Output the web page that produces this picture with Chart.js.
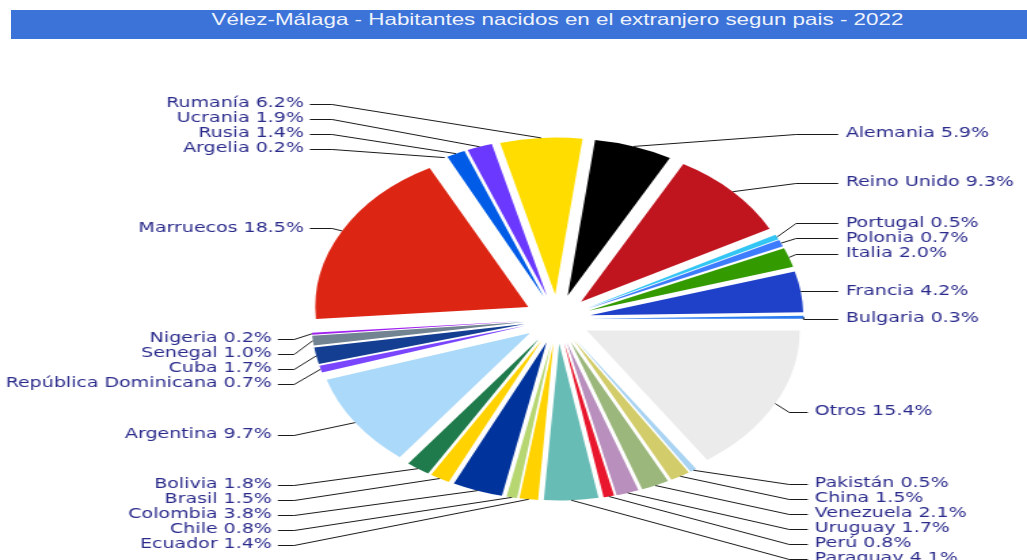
<!DOCTYPE html>
<html lang="es">
<head>
<meta charset="utf-8">
<title>Vélez-Málaga - Habitantes nacidos en el extranjero</title>
<script src="https://cdn.jsdelivr.net/npm/chart.js@4.4.1/dist/chart.umd.min.js"></script>
<style>
  html, body { margin: 0; padding: 0; background: #fff; overflow: hidden; }
  /* la imagen original esta estirada en horizontal: se dibuja a 757px y se estira a 1027px */
  #lienzo { position: relative; width: 757px; height: 560px; transform: scaleX(1.3567); transform-origin: 0 0; }
  #titulo {
    position: absolute; left: 8.1px; top: 10px; width: 805.6px; height: 29px; line-height: 29px;
    background: #3b73d9; color: #eef2fb; font: 16.5px "Liberation Sans", Arial, sans-serif;
    text-align: center; white-space: nowrap; z-index: 2;
  }
  #grafico { position: absolute; left: 0; top: 0; display: block; }
</style>
</head>
<body>
<div id="lienzo">
  <div id="titulo">Vélez-Málaga - Habitantes nacidos en el extranjero segun pais - 2022</div>
  <canvas id="grafico" width="757" height="560" style="width:757px;height:560px"></canvas>
</div>
<script>
// --- DATOS (orden de las porciones, en sentido horario) ---
const paises = [
  'Alemania', 'Reino Unido', 'Portugal', 'Polonia', 'Italia', 'Francia', 'Bulgaria',
  'Otros', 'Pakistán', 'China', 'Venezuela', 'Uruguay', 'Perú', 'Paraguay',
  'Ecuador', 'Chile', 'Colombia', 'Brasil', 'Bolivia', 'Argentina',
  'República Dominicana', 'Cuba', 'Senegal', 'Nigeria', 'Marruecos', 'Argelia',
  'Rusia', 'Ucrania', 'Rumanía'
];
const porcentajes = [
  5.9, 9.3, 0.5, 0.7, 2.0, 4.2, 0.3,
  15.4, 0.5, 1.5, 2.1, 1.7, 0.8, 4.1,
  1.4, 0.8, 3.8, 1.5, 1.8, 9.7,
  0.7, 1.7, 1.0, 0.2, 18.5, 0.2,
  1.4, 1.9, 6.2
];
const colores = [
  '#000000', '#c0141f', '#33c6f4', '#3d7bff', '#339a00', '#1f41c9', '#2b7bf0',
  '#ebebeb', '#a9d3f2', '#d2cc6a', '#9bb77b', '#b98fbd', '#e8172e', '#67bcb6',
  '#ffd200', '#b6d672', '#00339b', '#ffd200', '#1f7b4b', '#abd9f9',
  '#7a45ff', '#143e92', '#728391', '#a020f0', '#dd2513', '#ffffff',
  '#005ce6', '#6a38ff', '#ffdd00'
];

const SEPARACION = 24.5;   // desplazamiento de cada porcion hacia fuera
const HUECO_ETIQUETA = 15; // distancia extra para la altura ideal de la etiqueta
const INTERLINEA = 15;     // separacion minima entre etiquetas

// columnas de texto, codo de la linea guia, final de la linea y ajuste vertical (respecto al centro)
const columnas = {
  derArriba: { texto: 212.6, codo: 176, fin: 207, dy: 1.5 },
  derAbajo:  { texto: 189.8, codo: 171, fin: 184.6, dy: 1 },
  izqArriba: { texto: 186.8, codo: 166, fin: 182.4, dy: 4.5 },
  izqAbajo:  { texto: 210.4, codo: 194, fin: 206, dy: 3.5 }
};

// dibuja cada porcion separada del centro
const explotarPorciones = {
  id: 'explotarPorciones',
  beforeDatasetsDraw(chart) {
    const ctx = chart.ctx;
    chart.getDatasetMeta(0).data.forEach(arc => {
      const medio = (arc.startAngle + arc.endAngle) / 2;
      ctx.save();
      ctx.translate(Math.cos(medio) * SEPARACION, Math.sin(medio) * SEPARACION);
      arc.draw(ctx);
      ctx.restore();
    });
    return false;
  }
};

// etiquetas con lineas guia
const etiquetasGuia = {
  id: 'etiquetasGuia',
  afterDraw(chart) {
    const ctx = chart.ctx;
    const arcos = chart.getDatasetMeta(0).data;
    const grupos = { derArriba: [], derAbajo: [], izqArriba: [], izqAbajo: [] };

    arcos.forEach((arc, i) => {
      const medio = (arc.startAngle + arc.endAngle) / 2;
      const c = Math.cos(medio), s = Math.sin(medio);
      const r = arc.outerRadius + SEPARACION;
      const item = {
        texto: paises[i] + ' ' + porcentajes[i].toFixed(1) + '%',
        cx: arc.x,
        ax: arc.x + r * c,
        ay: arc.y + r * s,
        y: arc.y + (r + HUECO_ETIQUETA) * s,
        derecha: c >= 0
      };
      const clave = (item.derecha ? 'der' : 'izq') + (s < 0 ? 'Arriba' : 'Abajo');
      item.y += columnas[clave].dy;
      grupos[clave].push(item);
    });

    // evitar solapes
    Object.keys(grupos).forEach(clave => {
      const lista = grupos[clave];
      if (clave.endsWith('Arriba')) {
        lista.sort((a, b) => b.y - a.y);
        for (let k = 1; k < lista.length; k++) lista[k].y = Math.min(lista[k].y, lista[k - 1].y - INTERLINEA);
      } else {
        lista.sort((a, b) => a.y - b.y);
        for (let k = 1; k < lista.length; k++) lista[k].y = Math.max(lista[k].y, lista[k - 1].y + INTERLINEA);
      }
    });

    ctx.save();
    ctx.font = '14px "DejaVu Sans"';
    ctx.textBaseline = 'middle';
    ctx.lineWidth = 1;
    ctx.strokeStyle = '#1a1a1a';
    ctx.fillStyle = '#2b2b8c';
    Object.keys(grupos).forEach(clave => {
      const col = columnas[clave];
      grupos[clave].forEach(it => {
        const y = Math.round(it.y) + 0.5;
        let codo, fin, xt;
        if (it.derecha) {
          codo = Math.max(it.cx + col.codo, it.ax);
          fin = it.cx + col.fin;
          xt = it.cx + col.texto;
          ctx.textAlign = 'left';
        } else {
          codo = Math.min(it.cx - col.codo, it.ax);
          fin = it.cx - col.fin;
          xt = it.cx - col.texto;
          ctx.textAlign = 'right';
        }
        ctx.beginPath();
        ctx.moveTo(it.ax, it.ay);
        ctx.lineTo(codo, y);
        ctx.lineTo(fin, y);
        ctx.stroke();
        ctx.fillText(it.texto, xt, it.y);
      });
    });
    ctx.restore();
  }
};

new Chart(document.getElementById('grafico').getContext('2d'), {
  type: 'pie',
  data: {
    labels: paises,
    datasets: [{
      data: porcentajes,
      backgroundColor: colores,
      borderWidth: 0
    }]
  },
  options: {
    responsive: false,
    animation: false,
    devicePixelRatio: 1,
    events: [],
    radius: 157,
    rotation: 7.4,
    layout: { padding: { left: 64.6, right: 0, top: 78, bottom: 0 } },
    plugins: {
      legend: { display: false },
      tooltip: { enabled: false },
      title: { display: false }
    }
  },
  plugins: [explotarPorciones, etiquetasGuia]
});
</script>
</body>
</html>
